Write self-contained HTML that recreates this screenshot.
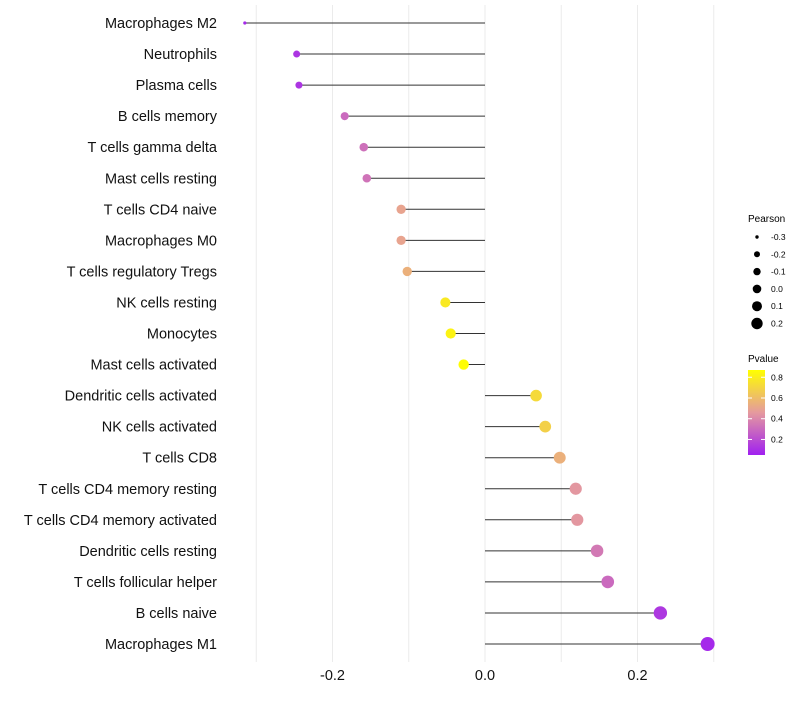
<!DOCTYPE html>
<html><head><meta charset="utf-8"><style>
body{margin:0;background:#fff;font-family:"Liberation Sans",sans-serif;}
svg text{font-family:"Liberation Sans",sans-serif;}
</style></head><body>
<svg id="c" width="800" height="700" xmlns="http://www.w3.org/2000/svg">
<defs><linearGradient id="pg" x1="0" y1="1" x2="0" y2="0">
<stop offset="0" stop-color="#a020f0"/><stop offset="0.5" stop-color="#e59a9e"/><stop offset="1" stop-color="#ffff00"/>
</linearGradient></defs>
<g id="grid"></g><g id="marks"></g><g id="labels"></g><g id="xaxis"></g>
<g>
<text x="748" y="222" font-size="10">Pearson</text><g id="sizeleg"></g></g>
<g>
<text x="748" y="362" font-size="10">Pvalue</text>
<rect x="748" y="370" width="17" height="85" fill="url(#pg)"/><g id="colleg"></g></g>
</svg>
<script>
const categories=["Macrophages M2","Neutrophils","Plasma cells","B cells memory","T cells gamma delta","Mast cells resting","T cells CD4 naive","Macrophages M0","T cells regulatory  Tregs ","NK cells resting","Monocytes","Mast cells activated","Dendritic cells activated","NK cells activated","T cells CD8","T cells CD4 memory resting","T cells CD4 memory activated","Dendritic cells resting","T cells follicular helper","B cells naive","Macrophages M1"];
const pearson=[-0.315,-0.247,-0.244,-0.184,-0.159,-0.155,-0.110,-0.110,-0.102,-0.052,-0.045,-0.028,0.067,0.079,0.098,0.119,0.121,0.147,0.161,0.230,0.292];
const pvalue=[0.08,0.12,0.12,0.30,0.32,0.33,0.50,0.50,0.55,0.78,0.82,0.86,0.72,0.68,0.55,0.45,0.45,0.35,0.30,0.13,0.08];
const xTicks=[-0.2,0.0,0.2];
const sizeLegend=[-0.3,-0.2,-0.1,0.0,0.1,0.2];
const colTicks=[0.2,0.4,0.6,0.8];
const NS="http://www.w3.org/2000/svg";
const x=v=>485+v*762.5, y=i=>23+i*31.05;
const r=v=>v<-0.3?1.6:Math.sqrt(Math.max(3,29+68*v));
const pmin=0.05,pmax=0.87, cy=p=>455-(p-pmin)/(pmax-pmin)*85;
function lerp(a,b,t){return a.map((v,k)=>Math.round(v+(b[k]-v)*t));}
function col(p){const t=Math.max(0,Math.min(1,(p-pmin)/(pmax-pmin)));const A=[160,32,240],M=[229,154,158],B=[255,255,0];
const c=t<0.5?lerp(A,M,t*2):lerp(M,B,(t-0.5)*2);return `rgb(${c})`;}
function mk(t,a,p){const e=document.createElementNS(NS,t);for(const k in a)e.setAttribute(k,a[k]);p.appendChild(e);return e;}
const G=document.getElementById('grid'),M=document.getElementById('marks'),L=document.getElementById('labels'),X=document.getElementById('xaxis');
[-0.3,-0.2,-0.1,0,0.1,0.2,0.3].forEach(v=>{const g=mk('line',{x1:x(v),x2:x(v),y1:5,y2:662,stroke:'#ebebeb','stroke-width':1},G);

});
categories.forEach((c,i)=>{
 const ln=mk('line',{x1:x(0),x2:x(pearson[i]),y1:y(i),y2:y(i),stroke:'#333','stroke-width':1},M);
 
 
 const d=mk('circle',{cx:x(pearson[i]),cy:y(i),r:r(pearson[i]),fill:col(pvalue[i])},M);
 
 
 const t=mk('text',{x:217,y:y(i)+5,'text-anchor':'end','font-size':14.5,fill:'#111'},L);t.textContent=c;
 
 
});
xTicks.forEach(v=>{const t=mk('text',{x:x(v),y:680,'text-anchor':'middle','font-size':14.5,fill:'#111'},X);t.textContent=v.toFixed(1);
 
 });
const S=document.getElementById('sizeleg');
const lr=[1.7,3,3.7,4.3,5,5.7];
sizeLegend.forEach((v,i)=>{const yy=237+i*17.3;const c=mk('circle',{cx:757,cy:yy,r:lr[i],fill:'#000'},S);
 
 
 const t=mk('text',{x:771,y:yy+3,'font-size':8.5},S);t.textContent=v.toFixed(1);});
const C=document.getElementById('colleg');
colTicks.forEach(p=>{mk('line',{x1:748,x2:752,y1:cy(p),y2:cy(p),stroke:'#fff'},C);mk('line',{x1:761,x2:765,y1:cy(p),y2:cy(p),stroke:'#fff'},C);
 const t=mk('text',{x:771,y:cy(p)+3,'font-size':8.5},C);t.textContent=p.toFixed(1);});
</script>
</body></html>
